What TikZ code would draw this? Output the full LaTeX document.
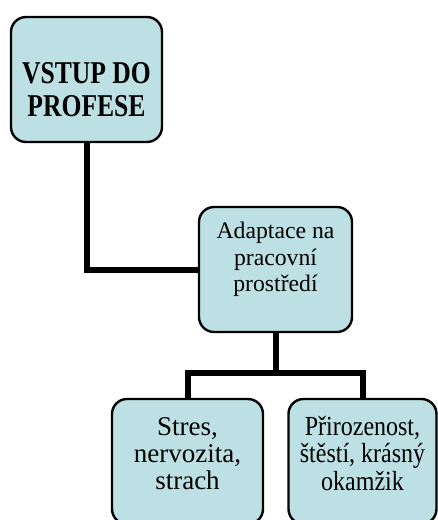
\documentclass[tikz,border=0pt]{standalone}
\usepackage{fontspec}
\setmainfont{Liberation Serif}
\usepackage{xcolor}
\usetikzlibrary{positioning,calc}
\definecolor{paleblue}{RGB}{188,224,228}
\tikzset{
  pbox/.style={draw,line width=2.4pt,rounded corners=15pt,fill=paleblue,
               minimum width=151pt,minimum height=125pt,inner sep=0pt},
  ptext/.style={align=center,inner sep=0pt},
  conn/.style={line width=6pt,line join=miter},
}

\begin{document}
\begin{tikzpicture}[x=1pt,y=-1pt]
  \clip (0,0) rectangle (438,520);
  % boxes
  \node[pbox] (start) at (86.5,79.5) {};
  \node[pbox,minimum width=153pt] (adapt) at (275.5,269.5) {};
  \node[pbox] (stres) at (187.5,461.5) {};
  \node[pbox,minimum width=148pt] (priroz) at (362.5,461.5) {};
  % texts
  \node[ptext,font=\bfseries\fontsize{25.6}{26.6}\selectfont,yscale=1.24]
    (starttext) at ($(start.center)+(0,10)$) {VSTUP DO\\PROFESE};
  \node[ptext,font=\fontsize{23.7}{26.3}\selectfont]
    (adapttext) at ($(adapt.center)+(0,-10)$) {Adaptace na\\pracovní\\prostředí};
  \node[ptext,font=\fontsize{27}{27.2}\selectfont]
    (strestext) at ($(stres.center)+(0,-8)$) {Stres,\\nervozita,\\strach};
  \node[ptext,font=\fontsize{24}{23.7}\selectfont,yscale=1.15]
    (priroztext) at ($(priroz.center)+(0,-8)$) {Přirozenost,\\štěstí, krásný\\okamžik};
  % connectors
  \coordinate (fork) at ($(adapt.south)+(0,40)$);
  \draw[conn] (start.south) |- (adapt.west);
  \draw[conn] (adapt.south) -- (fork);
  \draw[conn] (stres.north) |- (fork) -| (priroz.north);
\end{tikzpicture}
\end{document}
